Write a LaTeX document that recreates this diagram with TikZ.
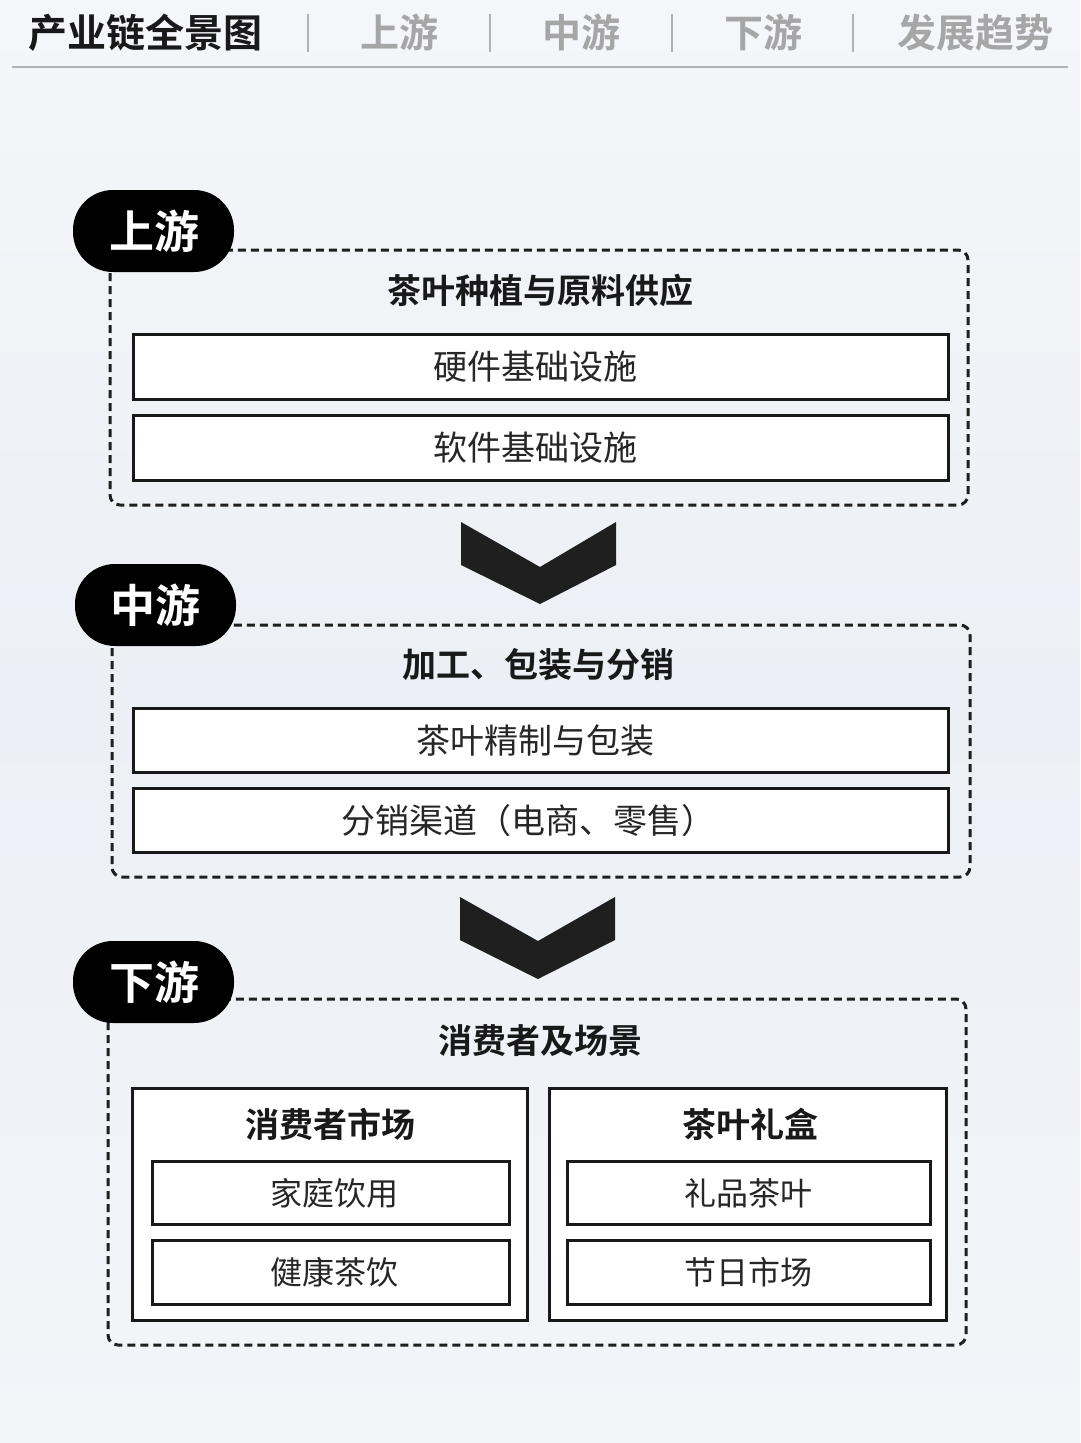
\documentclass[tikz,border=0pt]{standalone}
\usepackage{fontspec}
\setmainfont{Noto Sans CJK SC}
\newfontfamily\cjkb{Noto Sans CJK SC Bold}
\newfontfamily\cjkr{Noto Sans CJK SC}
\definecolor{bgtop}{HTML}{F5F6F9}
\definecolor{bgmid}{HTML}{ECEFF5}
\definecolor{bgbot}{HTML}{F3F5F9}
\begin{document}
\begin{tikzpicture}[x=1pt,y=-1pt,
  outer/.style={draw=black!88,line width=3pt,dash pattern=on 8pt off 5pt,rounded corners=10pt},
  inner/.style={draw=black!90,line width=3pt,fill=white},
  tag/.style={fill=black,rounded corners=40pt},
  tagtxt/.style={text=white,font=\cjkb\fontsize{45}{48}\selectfont},
  ttl/.style={font=\cjkb\fontsize{34}{38}\selectfont,text=black!90},
  itm/.style={font=\cjkr\fontsize{34}{38}\selectfont,text=black!85},
  sitm/.style={font=\cjkr\fontsize{32}{36}\selectfont,text=black!85},
  hdr/.style={font=\cjkb\fontsize{39}{42}\selectfont,text=black!35},
  sep/.style={draw=black!30,line width=1.2pt},
  chev/.style={fill=black!88}]
\fill[top color=bgtop,bottom color=bgmid] (0,0) rectangle (1080,700);
\fill[top color=bgmid,bottom color=bgbot] (0,700) rectangle (1080,1443);
\useasboundingbox (0,0) rectangle (1080,1443);
% header
\node[hdr,text=black!90] (h0) at (145,33) {产业链全景图};
\node[hdr] (h1) at (399,33) {上游};
\node[hdr] (h2) at (581,33) {中游};
\node[hdr] (h3) at (763,33) {下游};
\node[hdr] (h4) at (975,33) {发展趋势};
\foreach \x in {308,490,672,853} \draw[sep] (\x,14) -- (\x,52);
\draw[black!30,line width=1.5pt] (12,67) -- (1068,67);
% upstream
\draw[outer] (110,250) rectangle (968,505);
\fill[tag] (73,190) rectangle (234,272);
\node[tagtxt] (t1) at (154,231) {上游};
\node[ttl] (u0) at (540,291) {茶叶种植与原料供应};
\draw[inner] (133,334) rectangle (948,399);
\node[itm] (u1) at (535,367) {硬件基础设施};
\draw[inner] (133,415) rectangle (948,480);
\node[itm] (u2) at (535,448) {软件基础设施};
\fill[chev] (461,522) -- (540,567) -- (616,522) -- (616,565) -- (540,604) -- (461,565) -- cycle;
% midstream
\draw[outer] (112,625) rectangle (970,877);
\fill[tag] (75,564) rectangle (236,646);
\node[tagtxt] (t2) at (155,605) {中游};
\node[ttl] (m0) at (538,665) {加工、包装与分销};
\draw[inner] (133,708) rectangle (948,772);
\node[itm] (m1) at (535,741) {茶叶精制与包装};
\draw[inner] (133,788) rectangle (948,852);
\node[itm] (m2) at (528,821) {分销渠道（电商、零售）};
\fill[chev] (460,897) -- (538,941) -- (615,897) -- (615,940) -- (538,979) -- (460,940) -- cycle;
% downstream
\draw[outer] (108,999) rectangle (966,1345);
\fill[tag] (73,941) rectangle (234,1023);
\node[tagtxt] (t3) at (154,982) {下游};
\node[ttl] (d0) at (540,1041) {消费者及场景};
\draw[inner] (132,1088) rectangle (527,1320);
\node[ttl] (dl) at (330,1124) {消费者市场};
\draw[inner] (152,1161) rectangle (509,1224);
\node[sitm] (dl1) at (334,1193) {家庭饮用};
\draw[inner] (152,1240) rectangle (509,1304);
\node[sitm] (dl2) at (334,1272) {健康茶饮};
\draw[inner] (549,1088) rectangle (946,1320);
\node[ttl] (dr) at (750,1124) {茶叶礼盒};
\draw[inner] (567,1161) rectangle (930,1224);
\node[sitm] (dr1) at (748,1193) {礼品茶叶};
\draw[inner] (567,1240) rectangle (930,1304);
\node[sitm] (dr2) at (748,1272) {节日市场};
\end{tikzpicture}
\end{document}
